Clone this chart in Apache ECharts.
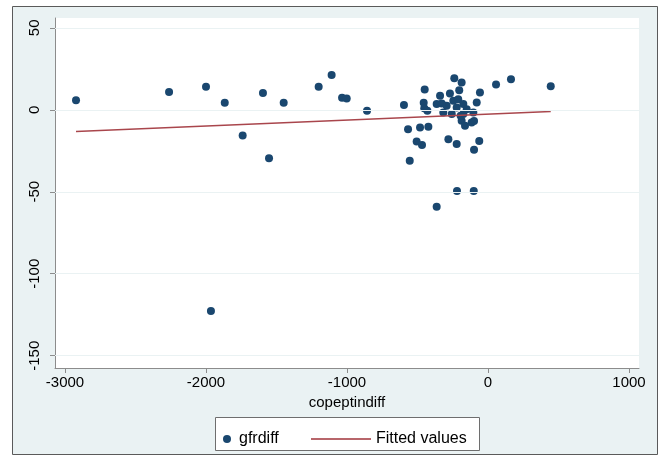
<!DOCTYPE html>
<html>
<head>
<meta charset="utf-8">
<script src="https://cdn.jsdelivr.net/npm/echarts@6/dist/echarts.min.js"></script>
<style>
html,body{margin:0;padding:0;background:#fff;}
#c{width:661px;height:459px;}
</style>
</head>
<body>
<div id="c"></div>
<script>
// x values (copeptindiff) and y values (gfrdiff)
var copeptindiff = [
  -2922, -2262, -2000, -1867, -1740, -1596, -1553, -1449, -1201, -1109, -1035, -1002, -858, -1965,
  -596, -567, -555, -506, -468, -482, -423, -449, -456, -452, -430,
  -239, -187, -270, -204, -57, -340, -246, -211, -175, -80, -364, -293, -222, -151,
  -317, -257, -175, -104, -187, -116, -163, -328, -194, -99,
  -281, -222, -62, -99, 57, 163, 445, -220, -101, -364
];
var gfrdiff = [
  5.9, 10.8, 14.0, 4.3, -15.7, 10.2, -29.5, 4.3, 14.0, 21.3, 7.3, 6.9, -0.6, -122.8,
  2.9, -11.8, -31.1, -19.3, -21.5, -10.8, -10.4, 12.4, 4.3, 1.0, -0.6,
  19.3, 16.6, 9.9, 12.0, 10.5, 8.5, 5.5, 6.5, 3.5, 4.5, 3.5, 2.4, 1.4, 0.4,
  -1.6, -2.6, -2.6, -1.6, -6.7, -7.7, -9.8, 3.9, -3.7, -6.9,
  -17.9, -20.9, -19.1, -24.4, 15.4, 18.7, 14.4, -49.6, -49.6, -59.1
];
// fitted values line endpoints
var fitX = [-2922, 445];
var fitY = [-13.2, -1.0];
// tick labels
var xTicks = [-3000, -2000, -1000, 0, 1000];
var yTicks = [-150, -100, -50, 0, 50];

var scatterData = copeptindiff.map(function (x, i) { return [x, gfrdiff[i]]; });
var fitData = fitX.map(function (x, i) { return [x, fitY[i]]; });

var chart = echarts.init(document.getElementById('c'), null, {renderer: 'canvas'});
var font = 'Liberation Sans, Arial, sans-serif';
var plain = function (v) { return String(v); };
chart.setOption({
  animation: false,
  backgroundColor: '#ffffff',
  graphic: [
    {type: 'rect', z: -10, shape: {x: 12.5, y: 6.5, width: 645, height: 448},
     style: {fill: '#eaf2f3', stroke: '#5a5a5a', lineWidth: 1}},
    {type: 'rect', z: -9, shape: {x: 55, y: 18, width: 584, height: 350},
     style: {fill: '#ffffff'}},
    {type: 'rect', z: 1, shape: {x: 215.5, y: 417.5, width: 264, height: 33},
     style: {fill: '#ffffff', stroke: '#6e6e6e', lineWidth: 1}}
  ],
  grid: {left: 55, right: 22, top: 18, bottom: 91, containLabel: false},
  xAxis: {
    type: 'value', min: -3071, max: 1071,
    name: 'copeptindiff', nameLocation: 'middle', nameGap: 27,
    nameTextStyle: {color: '#000', fontSize: 15, fontFamily: font},
    axisLine: {show: true, onZero: false, lineStyle: {color: '#8c8c8c', width: 1}},
    axisTick: {show: true, length: 5, customValues: xTicks, lineStyle: {color: '#8c8c8c'}},
    axisLabel: {customValues: xTicks, formatter: plain, color: '#000', fontSize: 15, fontFamily: font, margin: 7},
    splitLine: {show: false}
  },
  yAxis: {
    type: 'value', min: -157.5, max: 56,
    axisLine: {show: true, onZero: false, lineStyle: {color: '#8c8c8c', width: 1}},
    axisTick: {show: true, length: 5, customValues: yTicks, lineStyle: {color: '#8c8c8c'}},
    axisLabel: {customValues: yTicks, formatter: plain, rotate: 90, color: '#000', fontSize: 15, fontFamily: font, margin: 13},
    splitLine: {show: false}
  },
  legend: [
    {left: 218, top: 426, itemWidth: 14, itemHeight: 8, itemGap: 0, z: 5,
     data: [{name: 'gfrdiff', icon: 'circle'}],
     textStyle: {color: '#000', fontSize: 16, fontFamily: font}},
    {left: 306, top: 426, itemWidth: 60, itemHeight: 2, z: 5,
     data: [{name: 'Fitted values', icon: 'rect', itemStyle: {color: '#b8666b'}}],
     textStyle: {color: '#000', fontSize: 16, fontFamily: font}}
  ],
  series: [
    {
      name: 'gfrdiff', type: 'scatter', data: scatterData, symbolSize: 8,
      itemStyle: {color: '#1a476f', opacity: 1}, z: 3,
      markLine: {
        silent: true, symbol: 'none', label: {show: false}, animation: false,
        lineStyle: {color: '#eaf2f3', type: 'solid', width: 1},
        data: yTicks.map(function (v) { return {yAxis: v}; })
      }
    },
    {
      name: 'Fitted values', type: 'line', data: fitData, symbol: 'none',
      lineStyle: {color: '#a9464c', width: 1.6}, itemStyle: {color: '#a9464c'}, z: 4
    }
  ]
});
</script>
</body>
</html>
